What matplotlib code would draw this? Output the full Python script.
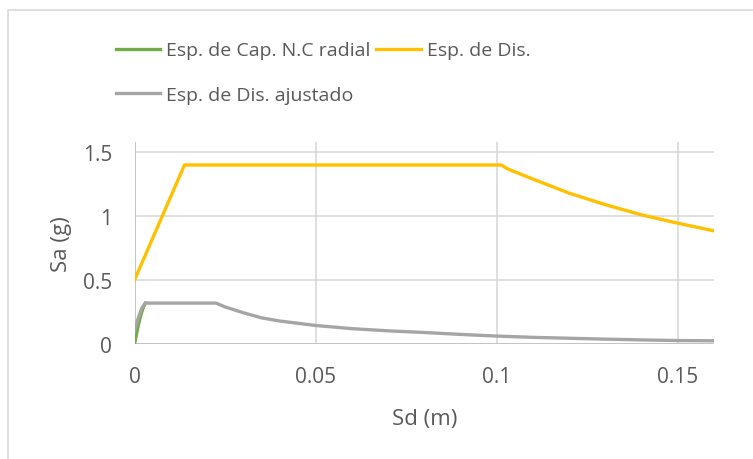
import matplotlib
matplotlib.use("Agg")
import matplotlib.pyplot as plt
from matplotlib.patches import Rectangle

fontsize = 12
matplotlib.rcParams.update({
    'font.family': ['Open Sans', 'DejaVu Sans'],
    'font.size': fontsize,
    'text.color': '#595959',
    'axes.labelcolor': '#595959',
    'xtick.color': '#595959',
    'ytick.color': '#595959',
})

# Esp. de Cap. N.C radial (green)
cap_sd = [0.0, 0.0005, 0.001, 0.0015, 0.002, 0.0025, 0.003]
cap_sa = [0.0, 0.07, 0.14, 0.2, 0.25, 0.29, 0.32]

# Esp. de Dis. (yellow)
dis_sd = [0.0, 0.0138, 0.1013, 0.103, 0.11, 0.12, 0.13, 0.14, 0.15, 0.16]
dis_sa = [0.5, 1.4, 1.4, 1.37, 1.29, 1.18, 1.09, 1.01, 0.945, 0.885]

# Esp. de Dis. ajustado (grey)
adj_sd = [0.0, 0.001, 0.002, 0.003, 0.0225, 0.025, 0.03, 0.035, 0.04,
          0.05, 0.06, 0.07, 0.08, 0.09, 0.1, 0.11, 0.12, 0.13, 0.14, 0.15, 0.16]
adj_sa = [0.1, 0.2, 0.28, 0.32, 0.32, 0.29, 0.245, 0.205, 0.18,
          0.145, 0.12, 0.103, 0.09, 0.075, 0.062, 0.052, 0.045, 0.038, 0.032, 0.027, 0.025]

x_ticks = [0, 0.05, 0.1, 0.15]
x_labels = ['0', '0.05', '0.1', '0.15']
y_ticks = [0, 0.5, 1, 1.5]
y_labels = ['0', '0.5', '1', '1.5']

fig = plt.figure(figsize=(7.53, 4.6), dpi=100)
fig.patches.append(Rectangle((8 / 753, -0.1), 1.2, 1.1 - 11 / 460, transform=fig.transFigure,
                             fill=False, edgecolor='#D9D9D9', linewidth=1.2))
ax = fig.add_axes([134.5 / 753, 1 - 345 / 460, (714 - 134.5) / 753, (345 - 143) / 460])

ax.set_xlim(0, 0.16)
ax.set_ylim(0, 1.58)
ax.set_xticks(x_ticks)
ax.set_xticklabels(x_labels)
ax.set_yticks(y_ticks)
ax.set_yticklabels(y_labels)
ax.tick_params(length=0, labelsize=15)
ax.tick_params(axis='x', pad=16)
ax.tick_params(axis='y', pad=16)
ax.grid(True, color='#D9D9D9', linewidth=1.2)
ax.set_axisbelow(True)
for s in ax.spines.values():
    s.set_visible(False)
ax.axvline(0, color='#BFBFBF', linewidth=1.2, zorder=1)
ax.axhline(0, color='#BFBFBF', linewidth=1.2, zorder=1)

l1, = ax.plot(cap_sd, cap_sa, color='#70AD47', linewidth=2.4, label='Esp. de Cap. N.C radial', zorder=3)
l2, = ax.plot(dis_sd, dis_sa, color='#FFC000', linewidth=2.4, label='Esp. de Dis.', zorder=3)
l3, = ax.plot(adj_sd, adj_sa, color='#A5A5A5', linewidth=2.4, label='Esp. de Dis. ajustado', zorder=4)

ax.set_xlabel('Sd (m)', fontsize=16, labelpad=15)
ax.set_ylabel('Sa (g)', fontsize=16, labelpad=8)

fig.legend([l1, l3, l2], [l1.get_label(), l3.get_label(), l2.get_label()],
           ncol=2, loc='upper left', bbox_to_anchor=(98 / 753, 1 - 25 / 460),
           frameon=False, fontsize=14, labelspacing=1.35, handlelength=2.3,
           handletextpad=0.3, columnspacing=0.3)

fig.savefig('out.png', dpi=100)
